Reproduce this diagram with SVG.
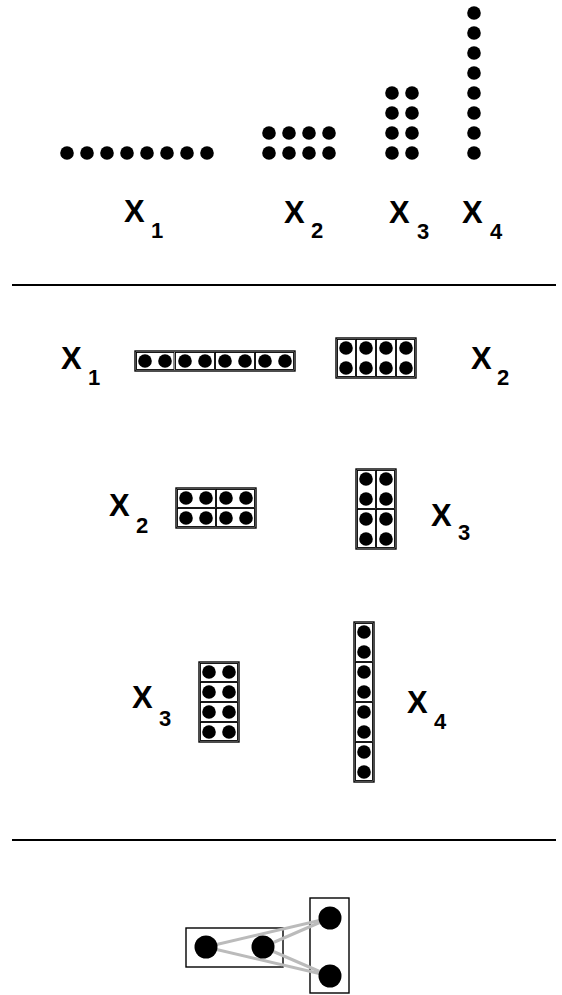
<svg xmlns="http://www.w3.org/2000/svg" width="562" height="995" viewBox="0 0 562 995">
<defs>
<style>
.d{fill:#000}
.box{fill:none;stroke:#000;stroke-width:1.4}
.cell{fill:none;stroke:#000;stroke-width:0.9}
.X{font-family:"Liberation Sans",Arial,sans-serif;font-weight:bold;font-size:31px;fill:#000}
.s{font-family:"Liberation Sans",Arial,sans-serif;font-weight:bold;font-size:22px;fill:#000}
.sep{stroke:#000;stroke-width:2}
.link{stroke:#bbb;stroke-width:3;fill:none}
</style>
</defs>
<rect width="562" height="995" fill="#fff"/>

<g id="top-x1">
<circle class="d" cx="67" cy="153" r="6.8"/><circle class="d" cx="87" cy="153" r="6.8"/><circle class="d" cx="107" cy="153" r="6.8"/><circle class="d" cx="127" cy="153" r="6.8"/><circle class="d" cx="147" cy="153" r="6.8"/><circle class="d" cx="167" cy="153" r="6.8"/><circle class="d" cx="187" cy="153" r="6.8"/><circle class="d" cx="207" cy="153" r="6.8"/>
<text class="X" x="124" y="222">X</text><text class="s" x="151" y="238">1</text>
</g>
<g id="top-x2">
<circle class="d" cx="269" cy="133" r="6.8"/><circle class="d" cx="289" cy="133" r="6.8"/><circle class="d" cx="309" cy="133" r="6.8"/><circle class="d" cx="329" cy="133" r="6.8"/>
<circle class="d" cx="269" cy="153" r="6.8"/><circle class="d" cx="289" cy="153" r="6.8"/><circle class="d" cx="309" cy="153" r="6.8"/><circle class="d" cx="329" cy="153" r="6.8"/>
<text class="X" x="284" y="223">X</text><text class="s" x="311" y="238">2</text>
</g>
<g id="top-x3">
<circle class="d" cx="392" cy="93" r="6.8"/><circle class="d" cx="412" cy="93" r="6.8"/>
<circle class="d" cx="392" cy="113" r="6.8"/><circle class="d" cx="412" cy="113" r="6.8"/>
<circle class="d" cx="392" cy="133" r="6.8"/><circle class="d" cx="412" cy="133" r="6.8"/>
<circle class="d" cx="392" cy="153" r="6.8"/><circle class="d" cx="412" cy="153" r="6.8"/>
<text class="X" x="389" y="223">X</text><text class="s" x="417" y="239">3</text>
</g>
<g id="top-x4">
<circle class="d" cx="474" cy="13" r="6.8"/><circle class="d" cx="474" cy="33" r="6.8"/><circle class="d" cx="474" cy="53" r="6.8"/><circle class="d" cx="474" cy="73" r="6.8"/>
<circle class="d" cx="474" cy="93" r="6.8"/><circle class="d" cx="474" cy="113" r="6.8"/><circle class="d" cx="474" cy="133" r="6.8"/><circle class="d" cx="474" cy="153" r="6.8"/>
<text class="X" x="462" y="223">X</text><text class="s" x="490" y="239">4</text>
</g>

<g id="separators">
<line class="sep" x1="12" y1="285" x2="556" y2="285"/>
<line class="sep" x1="12" y1="840" x2="556" y2="840"/>
</g>

<!-- Row 1 -->
<g id="r1-label-x1"><text class="X" x="61" y="369">X</text><text class="s" x="88" y="385">1</text></g>
<g id="r1-box-left">
<rect class="box" x="135" y="351" width="160" height="20"/>
<rect class="cell" x="136.5" y="352.5" width="37.5" height="17"/><rect class="cell" x="175.5" y="352.5" width="39" height="17"/><rect class="cell" x="215.5" y="352.5" width="39" height="17"/><rect class="cell" x="255.5" y="352.5" width="38" height="17"/>
<circle class="d" cx="145" cy="361" r="6.8"/><circle class="d" cx="165" cy="361" r="6.8"/><circle class="d" cx="185" cy="361" r="6.8"/><circle class="d" cx="205" cy="361" r="6.8"/>
<circle class="d" cx="225" cy="361" r="6.8"/><circle class="d" cx="245" cy="361" r="6.8"/><circle class="d" cx="265" cy="361" r="6.8"/><circle class="d" cx="285" cy="361" r="6.8"/>
</g>
<g id="r1-box-right">
<rect class="box" x="336" y="338" width="80" height="40"/>
<rect class="cell" x="337.5" y="339.5" width="18" height="37"/><rect class="cell" x="356.5" y="339.5" width="19" height="37"/><rect class="cell" x="376.5" y="339.5" width="19" height="37"/><rect class="cell" x="396.5" y="339.5" width="18" height="37"/>
<circle class="d" cx="346" cy="348" r="6.8"/><circle class="d" cx="366" cy="348" r="6.8"/><circle class="d" cx="386" cy="348" r="6.8"/><circle class="d" cx="406" cy="348" r="6.8"/>
<circle class="d" cx="346" cy="368" r="6.8"/><circle class="d" cx="366" cy="368" r="6.8"/><circle class="d" cx="386" cy="368" r="6.8"/><circle class="d" cx="406" cy="368" r="6.8"/>
</g>
<g id="r1-label-x2"><text class="X" x="471" y="369">X</text><text class="s" x="497" y="385">2</text></g>

<!-- Row 2 -->
<g id="r2-label-x2"><text class="X" x="109" y="516">X</text><text class="s" x="136" y="533">2</text></g>
<g id="r2-box-left">
<rect class="box" x="176" y="488" width="80" height="40"/>
<rect class="cell" x="177.5" y="489.5" width="38" height="18"/><rect class="cell" x="216.5" y="489.5" width="38" height="18"/>
<rect class="cell" x="177.5" y="508.5" width="38" height="18"/><rect class="cell" x="216.5" y="508.5" width="38" height="18"/>
<circle class="d" cx="186" cy="498" r="6.8"/><circle class="d" cx="206" cy="498" r="6.8"/><circle class="d" cx="226" cy="498" r="6.8"/><circle class="d" cx="246" cy="498" r="6.8"/>
<circle class="d" cx="186" cy="518" r="6.8"/><circle class="d" cx="206" cy="518" r="6.8"/><circle class="d" cx="226" cy="518" r="6.8"/><circle class="d" cx="246" cy="518" r="6.8"/>
</g>
<g id="r2-box-right">
<rect class="box" x="356" y="469" width="40" height="80"/>
<rect class="cell" x="357.5" y="470.5" width="18" height="38"/><rect class="cell" x="376.5" y="470.5" width="18" height="38"/>
<rect class="cell" x="357.5" y="509.5" width="18" height="38"/><rect class="cell" x="376.5" y="509.5" width="18" height="38"/>
<circle class="d" cx="366" cy="479" r="6.8"/><circle class="d" cx="386" cy="479" r="6.8"/>
<circle class="d" cx="366" cy="499" r="6.8"/><circle class="d" cx="386" cy="499" r="6.8"/>
<circle class="d" cx="366" cy="519" r="6.8"/><circle class="d" cx="386" cy="519" r="6.8"/>
<circle class="d" cx="366" cy="539" r="6.8"/><circle class="d" cx="386" cy="539" r="6.8"/>
</g>
<g id="r2-label-x3"><text class="X" x="431" y="526">X</text><text class="s" x="458" y="540">3</text></g>

<!-- Row 3 -->
<g id="r3-label-x3"><text class="X" x="132" y="708">X</text><text class="s" x="159" y="726">3</text></g>
<g id="r3-box-left">
<rect class="box" x="199" y="662" width="40" height="80"/>
<rect class="cell" x="200.5" y="663.5" width="37" height="18"/><rect class="cell" x="200.5" y="682.5" width="37" height="19"/>
<rect class="cell" x="200.5" y="702.5" width="37" height="19"/><rect class="cell" x="200.5" y="722.5" width="37" height="18"/>
<circle class="d" cx="209" cy="672" r="6.8"/><circle class="d" cx="229" cy="672" r="6.8"/>
<circle class="d" cx="209" cy="692" r="6.8"/><circle class="d" cx="229" cy="692" r="6.8"/>
<circle class="d" cx="209" cy="712" r="6.8"/><circle class="d" cx="229" cy="712" r="6.8"/>
<circle class="d" cx="209" cy="732" r="6.8"/><circle class="d" cx="229" cy="732" r="6.8"/>
</g>
<g id="r3-box-right">
<rect class="box" x="354" y="622" width="20" height="160"/>
<rect class="cell" x="355.5" y="623.5" width="17" height="38"/><rect class="cell" x="355.5" y="662.5" width="17" height="39"/>
<rect class="cell" x="355.5" y="702.5" width="17" height="39"/><rect class="cell" x="355.5" y="742.5" width="17" height="38"/>
<circle class="d" cx="364" cy="632" r="6.8"/><circle class="d" cx="364" cy="652" r="6.8"/><circle class="d" cx="364" cy="672" r="6.8"/><circle class="d" cx="364" cy="692" r="6.8"/>
<circle class="d" cx="364" cy="712" r="6.8"/><circle class="d" cx="364" cy="732" r="6.8"/><circle class="d" cx="364" cy="752" r="6.8"/><circle class="d" cx="364" cy="772" r="6.8"/>
</g>
<g id="r3-label-x4"><text class="X" x="407" y="713">X</text><text class="s" x="434" y="729">4</text></g>

<!-- Bottom -->
<g id="bottom-left">
<rect class="box" x="186" y="928" width="97" height="39"/>
</g>
<g id="bottom-right">
<rect class="box" x="310" y="898" width="39" height="95"/>
</g>
<g id="connectors">
<line class="link" x1="206" y1="947" x2="330" y2="918"/>
<line class="link" x1="206" y1="947" x2="330" y2="976"/>
<line class="link" x1="263" y1="947" x2="330" y2="918"/>
<line class="link" x1="263" y1="947" x2="330" y2="976"/>
</g>
<g id="bottom-dots">
<circle class="d" cx="206" cy="947" r="11.5"/>
<circle class="d" cx="263" cy="947" r="11.5"/>
<circle class="d" cx="330" cy="918" r="11.5"/>
<circle class="d" cx="330" cy="976" r="11.5"/>
</g>
</svg>
